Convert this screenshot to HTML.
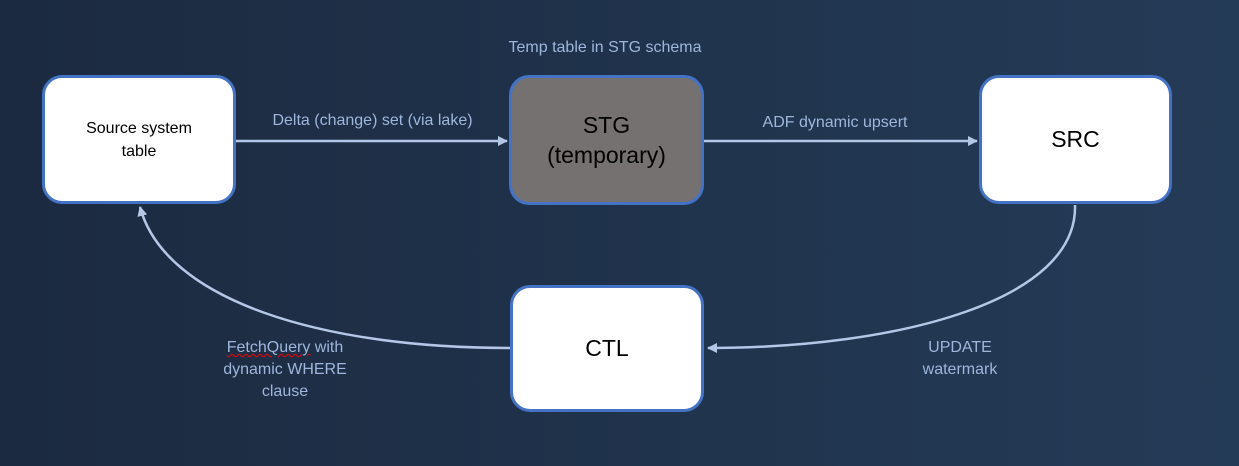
<!DOCTYPE html>
<html><head><style>
body{margin:0;width:1239px;height:466px;overflow:hidden;background:linear-gradient(90deg,#1b2a40,#243b57);font-family:"Liberation Sans",sans-serif;position:relative}
.b{position:absolute;box-sizing:border-box;border:3px solid #4472c4;border-radius:20px;background:#fff;display:flex;align-items:center;justify-content:center;text-align:center;color:#000}
.l{position:absolute;color:#9fb6dc;font-size:16px;text-align:center;line-height:22px}
</style></head><body>
<svg width="1239" height="466" style="position:absolute;left:0;top:0">
<defs><marker id="a" markerWidth="10" markerHeight="10" refX="9" refY="5" orient="auto" markerUnits="userSpaceOnUse"><path d="M0,0 L10,5 L0,10 z" fill="#b4c7e7"/></marker></defs>
<g stroke="#b4c7e7" stroke-width="2.5" fill="none">
<line x1="235" y1="141" x2="507" y2="141" marker-end="url(#a)"/>
<line x1="703" y1="141" x2="977" y2="141" marker-end="url(#a)"/>
<path d="M1075,205 C1078,300 900,348 708,348" marker-end="url(#a)"/>
<path d="M510,348 C320,348 165,300 140,207" marker-end="url(#a)"/>
</g></svg>
<div class="b" style="left:42px;top:75px;width:194px;height:129px;font-size:16px;line-height:23px">Source system<br>table</div>
<div class="b" style="left:509px;top:75px;width:195px;height:130px;background:#767171;font-size:23px;line-height:30px">STG<br>(temporary)</div>
<div class="b" style="left:979px;top:75px;width:193px;height:129px;font-size:23px">SRC</div>
<div class="b" style="left:510px;top:285px;width:194px;height:127px;font-size:23px">CTL</div>
<div class="l" style="left:470px;top:37px;width:270px">Temp table in STG schema</div>
<div class="l" style="left:240px;top:110px;width:265px">Delta (change) set (via lake)</div>
<div class="l" style="left:710px;top:112px;width:250px">ADF dynamic upsert</div>
<div class="l" style="left:190px;top:337px;width:190px"><span style="text-decoration:underline wavy red 1px">FetchQuery</span> with<br>dynamic WHERE<br>clause</div>
<div class="l" style="left:880px;top:337px;width:160px">UPDATE<br>watermark</div>
</body></html>
